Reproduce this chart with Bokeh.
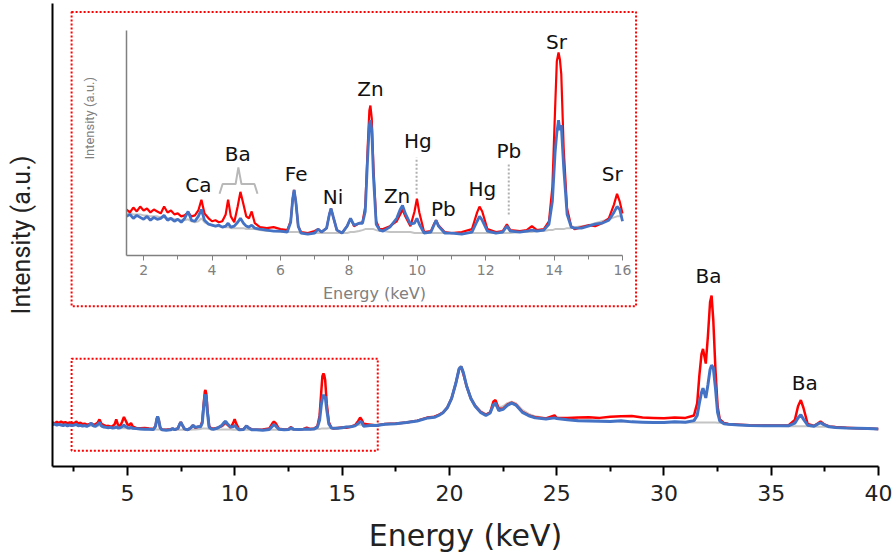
import math
from bokeh.plotting import figure
from bokeh.models import Range1d, LinearAxis, FixedTicker, ColumnDataSource
from bokeh.embed import file_html
from bokeh.resources import INLINE
from bokeh.core.properties import value

# ---------------- data (intensity in arbitrary units) ----------------
energy = [1.50, 1.60, 1.70, 1.80, 1.90, 2.00, 2.10, 2.20, 2.30, 2.40, 2.50, 2.60, 2.70, 2.80, 2.90,
          3.00, 3.10, 3.20, 3.30, 3.40, 3.50, 3.60, 3.69, 3.78, 3.90, 4.00, 4.10, 4.20, 4.30, 4.40,
          4.47, 4.55, 4.65, 4.75, 4.83, 4.92, 5.00, 5.08, 5.16, 5.25, 5.40, 5.60, 5.80, 6.00, 6.20,
          6.30, 6.36, 6.40, 6.45, 6.52, 6.60, 6.80, 7.00, 7.10, 7.20, 7.35, 7.43, 7.48, 7.54, 7.65,
          7.80, 7.95, 8.05, 8.15, 8.30, 8.40, 8.48, 8.55, 8.60, 8.63, 8.67, 8.72, 8.80, 8.90, 9.00,
          9.20, 9.40, 9.50, 9.57, 9.65, 9.80, 9.92, 9.99, 10.06, 10.20, 10.40, 10.50, 10.55, 10.62, 10.80,
          11.00, 11.30, 11.60, 11.75, 11.82, 11.90, 12.05, 12.30, 12.50, 12.62, 12.72, 13.00, 13.20, 13.35, 13.50,
          13.70, 13.85, 13.95, 14.03, 14.08, 14.13, 14.17, 14.21, 14.28, 14.38, 14.50, 14.60, 14.80, 15.00, 15.20,
          15.40, 15.60, 15.75, 15.84, 15.92, 16.00,
          16.3, 16.6, 17.0, 17.5, 18.0, 18.5, 19.0, 19.3, 19.5, 19.7, 19.9, 20.1, 20.3, 20.45, 20.55,
          20.65, 20.8, 21.0, 21.2, 21.45, 21.7, 21.9, 22.05, 22.15, 22.3, 22.5, 22.7, 22.9, 23.1, 23.4,
          23.7, 24.0, 24.5, 24.9, 25.0, 25.5, 26.0, 26.5, 27.0, 27.5, 28.0, 28.5, 29.0, 29.5, 30.0,
          30.5, 31.0, 31.4, 31.55, 31.65, 31.75, 31.82, 31.95, 32.05, 32.15, 32.22, 32.3, 32.4, 32.5, 32.6,
          32.8, 33.0, 33.5, 34.0, 35.0, 35.8, 36.1, 36.25, 36.38, 36.5, 36.7, 37.0, 37.2, 37.3, 37.45,
          37.7, 38.0, 38.5, 39.0, 39.5, 40.0]

red = [47, 44, 49, 45, 50, 46, 48, 44, 47, 45, 43, 50, 44, 46, 42,
       43, 40, 41, 44, 40, 41, 46, 57, 43, 38, 35, 36, 34, 35, 42,
       57, 40, 34, 50, 65, 52, 40, 38, 45, 33, 29, 28, 29, 27, 26,
       35, 58, 67, 55, 30, 24, 23, 25, 27, 24, 28, 42, 48, 40, 26,
       23, 30, 38, 30, 33, 34, 50, 110, 148, 153, 140, 90, 35, 27, 27,
       30, 35, 42, 47, 40, 30, 45, 58, 44, 24, 25, 33, 36, 31, 24,
       23, 24, 27, 44, 50, 45, 27, 24, 25, 32, 26, 25, 26, 30, 26,
       27, 35, 70, 150, 198, 207, 200, 185, 110, 48, 30, 27, 29, 31, 30,
       33, 38, 52, 63, 55, 43,
       40, 37, 42, 44, 47, 53, 63, 66, 72, 79, 95, 125, 175, 220, 229,
       205, 166, 125, 101, 82, 72, 80, 115, 120, 92, 92, 105, 112, 105, 82,
       70, 64, 60, 70, 62, 62, 63, 64, 62, 66, 67, 68, 63, 62, 61,
       63, 62, 70, 110, 200, 270, 287, 239, 330, 440, 461, 380, 220, 100, 58,
       45, 42, 40, 38, 37, 37, 55, 100, 120, 95, 42, 36, 45, 50, 42,
       34, 32, 30, 28, 27, 26]

blue = [40, 42, 38, 41, 39, 37, 40, 36, 39, 37, 38, 41, 36, 38, 35,
        37, 34, 38, 45, 36, 35, 40, 47, 36, 32, 31, 30, 31, 29, 30,
        33, 29, 30, 34, 38, 33, 30, 29, 31, 28, 27, 26, 25, 25, 24,
        34, 58, 67, 55, 30, 23, 22, 23, 27, 24, 28, 42, 48, 40, 26,
        23, 30, 38, 31, 33, 33, 45, 100, 133, 138, 128, 80, 32, 26, 25,
        29, 38, 47, 51, 43, 32, 33, 38, 32, 23, 24, 32, 36, 30, 23,
        23, 22, 24, 35, 40, 36, 25, 23, 24, 30, 25, 24, 25, 26, 25,
        26, 32, 55, 105, 125, 138, 128, 133, 90, 42, 29, 28, 28, 30, 32,
        33, 36, 44, 50, 47, 35,
        37, 37, 41, 43, 47, 52, 62, 64, 70, 79, 95, 125, 175, 222, 229,
        210, 166, 125, 100, 80, 70, 78, 105, 110, 86, 90, 103, 110, 104, 80,
        69, 62, 58, 62, 60, 56, 53, 52, 51, 50, 53, 49, 48, 47, 47,
        49, 48, 53, 70, 110, 145, 159, 127, 170, 220, 234, 225, 160, 80, 52,
        43, 41, 39, 37, 36, 36, 45, 62, 72, 58, 38, 35, 43, 46, 40,
        33, 31, 29, 28, 27, 26]

grey = [43, 43, 42, 42, 42, 41, 41, 40, 40, 40, 39, 39, 38, 38, 37,
        37, 36, 36, 37, 35, 34, 35, 38, 34, 32, 31, 30, 30, 29, 29,
        29, 28, 28, 28, 28, 28, 27, 27, 27, 27, 26, 25, 25, 24, 24,
        24, 24, 24, 24, 24, 23, 23, 23, 23, 23, 23, 23, 23, 23, 23,
        23, 23, 24, 24, 25, 26, 27, 27, 27, 27, 27, 27, 26, 25, 25,
        24, 24, 24, 24, 24, 24, 23, 23, 23, 23, 23, 23, 23, 23, 23,
        23, 23, 23, 23, 23, 23, 23, 23, 23, 23, 23, 24, 24, 24, 25,
        25, 26, 26, 27, 27, 27, 27, 27, 27, 28, 28, 29, 30, 31, 33,
        35, 37, 39, 40, 40, 40,
        41, 40, 42, 44, 47, 53, 63, 66, 72, 80, 98, 128, 180, 226, 232,
        214, 170, 130, 105, 85, 74, 80, 100, 102, 95, 100, 110, 115, 110, 88,
        75, 67, 62, 63, 60, 58, 55, 54, 53, 52, 50, 49, 48, 48, 47,
        47, 47, 47, 47, 47, 47, 47, 47, 47, 47, 47, 47, 47, 46, 46,
        44, 42, 40, 38, 36, 35, 35, 35, 35, 35, 35, 34, 33, 33, 33,
        32, 31, 29, 28, 27, 26]

assert len(energy) == len(red) == len(blue) == len(grey)

main_ticks = [5, 10, 15, 20, 25, 30, 35, 40]
main_minor = [2.5, 7.5, 12.5, 17.5, 22.5, 27.5, 32.5, 37.5]
inset_ticks = [2, 4, 6, 8, 10, 12, 14, 16]
inset_minor = [3, 5, 7, 9, 11, 13, 15]
inset_max_energy = 16

# element annotations inside the inset (energy, intensity)
inset_labels = ["Ca", "Ba", "Fe", "Ni", "Zn", "Hg", "Zn", "Pb", "Hg", "Pb", "Sr", "Sr"]
inset_label_e = [3.60, 4.75, 6.46, 7.54, 8.63, 10.02, 9.41, 10.76, 11.90, 12.68, 14.07, 15.70]
inset_label_i = [72, 104, 83, 60, 170, 117, 61, 48, 68, 107, 218, 83]
marker_e = [9.98, 12.675]
marker_lo = [63, 42]
marker_hi = [100, 93]
brace_e = [4.22, 4.31, 4.69, 4.77, 4.86, 5.24, 5.33]
brace_i = [63, 73, 73, 90, 73, 73, 63]

main_labels = ["Ba", "Ba"]
main_label_e = [32.08, 36.56]
main_label_i = [525, 175]

# ---------------- layout (pixels) ----------------
W, H = 896, 555
frame_l, frame_r, frame_t, frame_b = 52, 878, 3, 475
main_y0 = -96.6
main_y1 = 1413.8
ins_px_l, ins_px_r = 126, 622
ins_e0, ins_e1 = 1.5, 16.0
kx = (ins_px_r - ins_px_l) / (ins_e1 - ins_e0)
ix_start = ins_e0 - (ins_px_l - frame_l) / kx
ix_end = ins_e1 + (frame_r - ins_px_r) / kx
ins_zero_y = 260
iy_start = -(frame_b - ins_zero_y)
iy_end = ins_zero_y - frame_t

p = figure(width=W, height=H, output_backend="svg", toolbar_location=None,
           x_range=Range1d(1.5, 40), y_range=Range1d(main_y0, main_y1),
           x_axis_type=None, y_axis_type=None,
           min_border_left=frame_l, min_border_right=W - frame_r,
           min_border_top=frame_t, min_border_bottom=H - frame_b)
p.outline_line_color = None
p.background_fill_color = "white"
p.border_fill_color = "white"
p.extra_x_ranges = {"ix": Range1d(ix_start, ix_end)}
p.extra_y_ranges = {"iy": Range1d(iy_start, iy_end)}

# main axes
xa = LinearAxis(ticker=FixedTicker(ticks=main_ticks, minor_ticks=main_minor),
                axis_label="Energy (keV)")
xa.axis_line_width = 2
xa.axis_line_color = "black"
xa.major_tick_line_color = "black"
xa.minor_tick_line_color = "black"
xa.major_tick_line_width = 2
xa.minor_tick_line_width = 2
xa.major_tick_in = 0
xa.major_tick_out = 9
xa.minor_tick_in = 0
xa.minor_tick_out = 5
xa.major_label_text_font = "DejaVu Sans"
xa.major_label_text_font_size = "22px"
xa.major_label_text_color = "#222222"
xa.major_label_standoff = 9
xa.axis_label_text_font = "DejaVu Sans"
xa.axis_label_text_font_size = "30px"
xa.axis_label_text_font_style = "normal"
xa.axis_label_text_color = "#222222"
xa.axis_label_standoff = 14
p.add_layout(xa, "below")

ya = LinearAxis(ticker=FixedTicker(ticks=[], minor_ticks=[]), axis_label="Intensity (a.u.)")
ya.axis_line_width = 2
ya.axis_line_color = "black"
ya.major_tick_out = 0
ya.major_tick_in = 0
ya.minor_tick_out = 0
ya.minor_tick_in = 0
ya.axis_label_text_font = "Roboto"
ya.axis_label_text_font_size = "25px"
ya.axis_label_text_font_style = "normal"
ya.axis_label_text_color = "#222222"
ya.axis_label_standoff = 17
p.add_layout(ya, "left")

# inset axes
gcol = "#808080"
ixa = LinearAxis(x_range_name="ix", y_range_name="iy", fixed_location=0,
                 bounds=(ins_e0, ins_e1),
                 ticker=FixedTicker(ticks=inset_ticks, minor_ticks=inset_minor),
                 axis_label="Energy (keV)")
ixa.axis_line_color = gcol
ixa.axis_line_width = 1.5
ixa.major_tick_line_color = gcol
ixa.minor_tick_line_color = gcol
ixa.major_tick_in = 0
ixa.major_tick_out = 5
ixa.minor_tick_in = 0
ixa.minor_tick_out = 4
ixa.major_label_text_font = "DejaVu Sans"
ixa.major_label_text_font_size = "14px"
ixa.major_label_text_color = gcol
ixa.major_label_standoff = 4
ixa.axis_label_text_font = "DejaVu Sans"
ixa.axis_label_text_font_size = "16px"
ixa.axis_label_text_font_style = "normal"
ixa.axis_label_text_color = gcol
ixa.axis_label_standoff = 6
p.add_layout(ixa, "below")

iya = LinearAxis(x_range_name="ix", y_range_name="iy", fixed_location=ins_e0,
                 bounds=(0, 229), ticker=FixedTicker(ticks=[], minor_ticks=[]))
iya.axis_line_color = gcol
iya.axis_line_width = 1.5
iya.major_tick_out = 0
iya.major_tick_in = 0
iya.minor_tick_out = 0
iya.minor_tick_in = 0
p.add_layout(iya, "left")

# dotted boxes (main coordinates)
p.quad(left=[2.39, 2.39], right=[16.66, 28.70], top=[255, 1386], bottom=[-45, 426],
       fill_color=None, line_color="red", line_dash="2 2", line_width=2)

# main spectra
src = ColumnDataSource(dict(e=energy, red=red, blue=blue, grey=grey))
p.line("e", "grey", source=src, line_color="#c4c4c4", line_width=2)
p.line("e", "red", source=src, line_color="#ff0000", line_width=2.5)
p.line("e", "blue", source=src, line_color="#4472c4", line_width=3)

# inset spectra (same data, energy <= 16 keV)
n_in = sum(1 for e in energy if e <= inset_max_energy)
src_in = ColumnDataSource(dict(e=energy[:n_in], red=red[:n_in], blue=blue[:n_in], grey=grey[:n_in]))
p.line("e", "grey", source=src_in, line_color="#c4c4c4", line_width=2, x_range_name="ix", y_range_name="iy")
p.line("e", "red", source=src_in, line_color="#ff0000", line_width=2.2, x_range_name="ix", y_range_name="iy")
p.line("e", "blue", source=src_in, line_color="#4472c4", line_width=2.8, x_range_name="ix", y_range_name="iy")

# inset annotations
p.segment(x0=marker_e, y0=marker_lo, x1=marker_e, y1=marker_hi, line_color="#b0b0b0",
          line_dash="2 2", line_width=2, x_range_name="ix", y_range_name="iy")
p.line(brace_e, brace_i, line_color="#b8b8b8", line_width=2, x_range_name="ix", y_range_name="iy")
p.text(x=inset_label_e, y=inset_label_i, text=inset_labels, text_font=value("DejaVu Sans"),
       text_font_size="20px", text_color="#111111", text_align="center", text_baseline="middle",
       x_range_name="ix", y_range_name="iy")
p.text(x=[0.42], y=[140], text=["Intensity (a.u.)"], angle=math.pi / 2,
       text_font=value("Roboto"), text_font_size="13px", text_color=gcol,
       text_align="center", text_baseline="middle", x_range_name="ix", y_range_name="iy")

# main annotations
p.text(x=main_label_e, y=main_label_i, text=main_labels, text_font=value("DejaVu Sans"),
       text_font_size="20px", text_color="#111111", text_align="center", text_baseline="middle")

open("out.html", "w").write(file_html(p, INLINE))
